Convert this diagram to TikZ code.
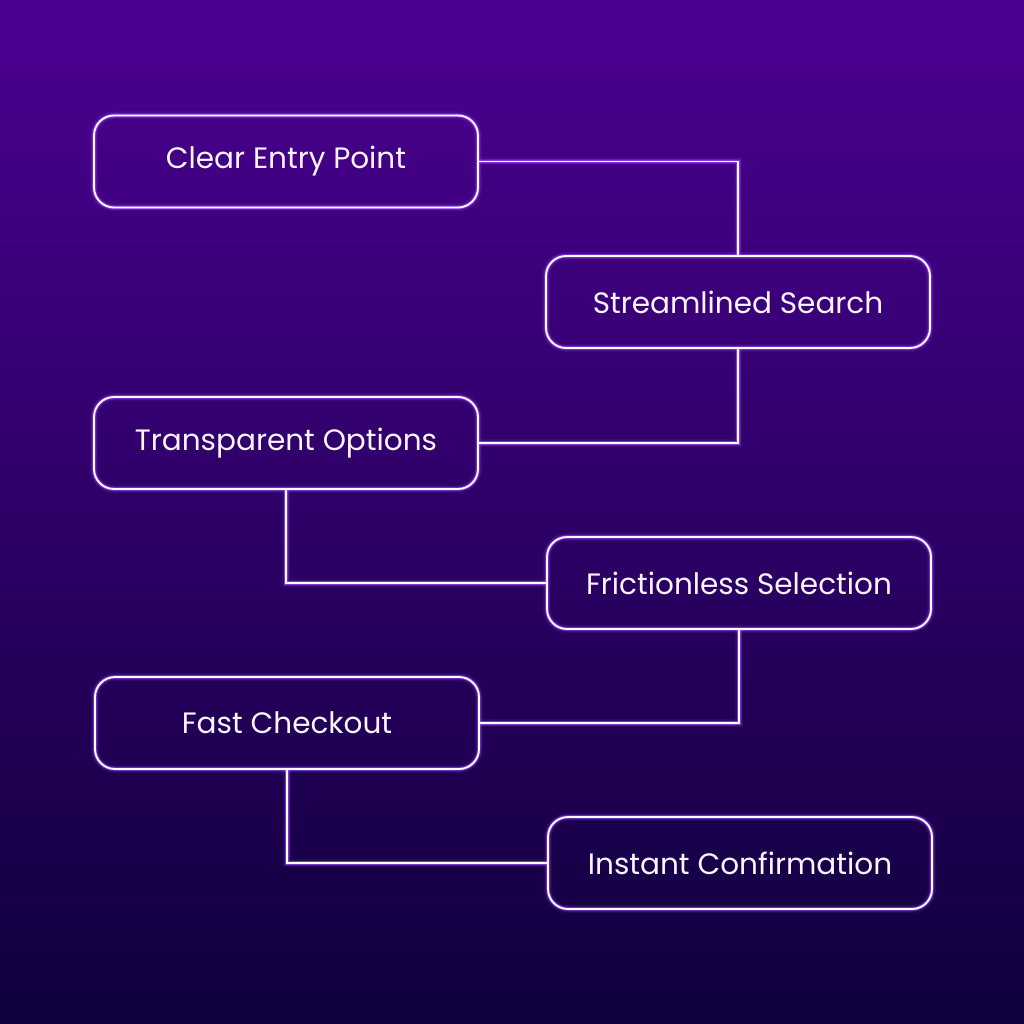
\documentclass[tikz,border=0pt]{standalone}
\usepackage{fontspec}
\setmainfont{Poppins}
\definecolor{bgtop}{HTML}{4C0092}
\definecolor{bgbot}{HTML}{0F003C}
\definecolor{glowc}{HTML}{A24BFF}
\definecolor{txtc}{HTML}{FBF5FF}
\tikzset{
  glow/.style={
    preaction={draw=glowc, line width=8pt, opacity=0.10},
    preaction={draw=glowc, line width=5pt, opacity=0.25},
    preaction={draw=glowc, line width=3.2pt, opacity=0.6},
    draw=white, line width=1.8pt},
  stepbox/.style={glow, rounded corners=20pt, minimum width=384pt, minimum height=92pt,
    inner sep=0pt, font=\fontsize{29.5}{34}\selectfont, text=txtc},
  link/.style={glow}
}
\begin{document}
\begin{tikzpicture}[x=1pt,y=-1pt]
\shade[top color=bgtop, bottom color=bgbot] (0,0) rectangle (1024,1024);
\useasboundingbox (0,0) rectangle (1024,1024);
\node[stepbox] (b1) at (286,161.5) {Clear Entry Point};
\node[stepbox] (b2) at (738,302) {Streamlined Search};
\node[stepbox] (b3) at (286,443) {Transparent Options};
\node[stepbox] (b4) at (739,583) {Frictionless Selection};
\node[stepbox] (b5) at (287,723) {Fast Checkout};
\node[stepbox] (b6) at (740,863) {Instant Confirmation};
\draw[link] (b1.east) -| (b2.north);
\draw[link] (b2.south) |- (b3.east);
\draw[link] (b3.south) |- (b4.west);
\draw[link] (b4.south) |- (b5.east);
\draw[link] (b5.south) |- (b6.west);
\end{tikzpicture}
\end{document}
